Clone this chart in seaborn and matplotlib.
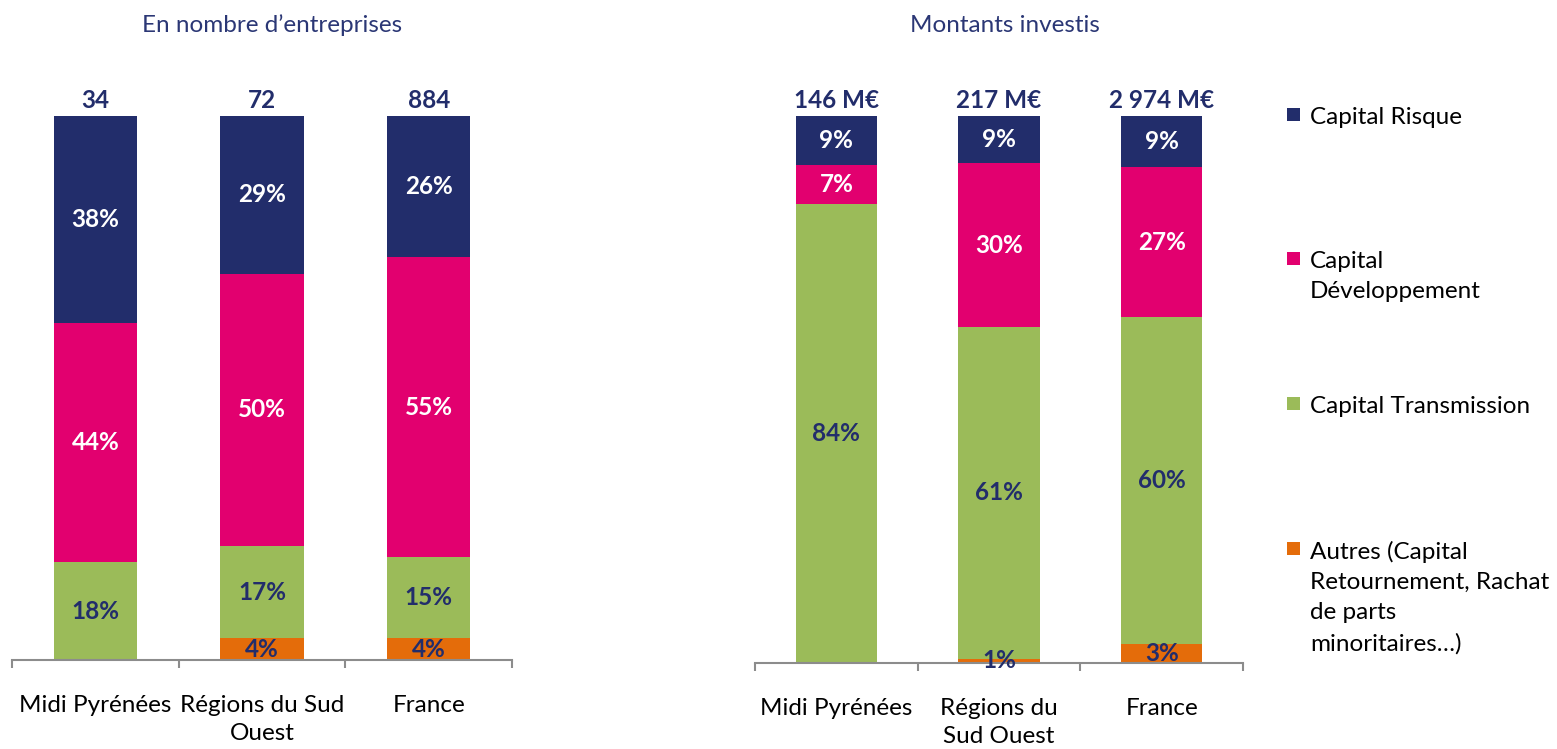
import matplotlib
matplotlib.use("Agg")
import matplotlib.pyplot as plt
from matplotlib.patches import Rectangle
import seaborn as sns
import pandas as pd
import numpy as np

# ---------------- data ----------------
categories = ["Midi Pyrénées", "Régions du Sud Ouest", "France"]
ticks_left = ["Midi Pyrénées", "Régions du Sud\nOuest", "France"]
ticks_right = ["Midi Pyrénées", "Régions du\nSud Ouest", "France"]

series = ["Autres (Capital\nRetournement, Rachat\nde parts\nminoritaires…)",
          "Capital Transmission", "Capital\nDéveloppement", "Capital Risque"]

# En nombre d'entreprises (%), bottom to top
n_autres = [0, 4, 4]
n_transmission = [18, 17, 15]
n_developpement = [44, 50, 55]
n_risque = [38, 29, 26]
n_totals = ["34", "72", "884"]

# Montants investis (%), bottom to top
m_autres = [0, 0.8, 3.4]
m_transmission = [84.0, 60.6, 59.9]
m_developpement = [7.0, 30.0, 27.3]
m_risque = [9.0, 8.6, 9.4]
m_totals = ["146 M€", "217 M€", "2 974 M€"]

colors = ["#E46C0A", "#9BBB59", "#E2006F", "#222D6B"]
label_colors = ["#222D6B", "#222D6B", "white", "white"]
NAVY = "#222D6B"
TITLE_C = "#2B3775"
FS = 17.5

sns.set_theme(style="white")
plt.rcParams["font.family"] = ["Lato", "DejaVu Sans"]

W, H = 1557, 749
fig = plt.figure(figsize=(W / 100, H / 100), dpi=100)
ax1 = fig.add_axes([12 / W, 89 / H, 500 / W, 544 / H])
ax2 = fig.add_axes([755 / W, 86 / H, 488 / W, 547 / H])


def stacked(ax, layers, totals, ticklabels):
    vals = np.array(layers, dtype=float)  # shape (4, 3)
    cum = np.cumsum(vals, axis=0)
    # draw from top cumulative down so lower layers sit on top
    for i in range(len(layers) - 1, -1, -1):
        df = pd.DataFrame({"cat": categories, "v": cum[i]})
        sns.barplot(data=df, x="cat", y="v", order=categories, color=colors[i],
                    saturation=1, width=0.5, linewidth=0, ax=ax)
    for i in range(len(layers)):
        for j in range(len(categories)):
            v = vals[i, j]
            if v <= 0:
                continue
            ax.text(j, cum[i, j] - v / 2, f"{round(v):d}%", ha="center", va="center",
                    color=label_colors[i], fontsize=FS, fontweight="bold")
    for j in range(len(categories)):
        ax.annotate(totals[j], (j, cum[-1, j]), xytext=(0, 3), textcoords="offset points",
                    ha="center", va="bottom", color=NAVY, fontsize=FS, fontweight="bold")
    ax.set_ylim(0, 100)
    ax.set_xlim(-0.5, 2.5)
    ax.set_xlabel("")
    ax.set_ylabel("")
    ax.set_yticks([])
    ax.set_xticks(range(len(categories)))
    ax.set_xticklabels(ticklabels, fontsize=FS, color="black", linespacing=1.45)
    ax.set_xticks([-0.5, 0.5, 1.5, 2.5], minor=True)
    ax.tick_params(axis="x", which="major", length=0, pad=25, bottom=True)
    ax.tick_params(axis="x", which="minor", length=6, width=1.5, color="#8C8C8C",
                   direction="out", bottom=True)
    for s in ["left", "top", "right"]:
        ax.spines[s].set_visible(False)
    ax.spines["bottom"].set_color("#8C8C8C")
    ax.spines["bottom"].set_linewidth(1.5)


stacked(ax1, [n_autres, n_transmission, n_developpement, n_risque], n_totals, ticks_left)
stacked(ax2, [m_autres, m_transmission, m_developpement, m_risque], m_totals, ticks_right)

fig.text(272 / W, 1 - 25 / H, "En nombre d’entreprises", ha="center", va="center",
         color=TITLE_C, fontsize=FS)
fig.text(1005 / W, 1 - 25 / H, "Montants investis", ha="center", va="center",
         color=TITLE_C, fontsize=FS)

# legend (top to bottom)
leg_y = [116, 260, 405, 550]
order = [3, 2, 1, 0]
for y, i in zip(leg_y, order):
    fig.add_artist(Rectangle((1287 / W, 1 - (y + 5) / H), 13 / W, 13 / H,
                             transform=fig.transFigure, color=colors[i], linewidth=0))
    fig.text(1310 / W, 1 - (y - 9) / H, series[i], ha="left", va="top",
             fontsize=FS, color="black", linespacing=1.54)

fig.savefig("out.png", dpi=100)
